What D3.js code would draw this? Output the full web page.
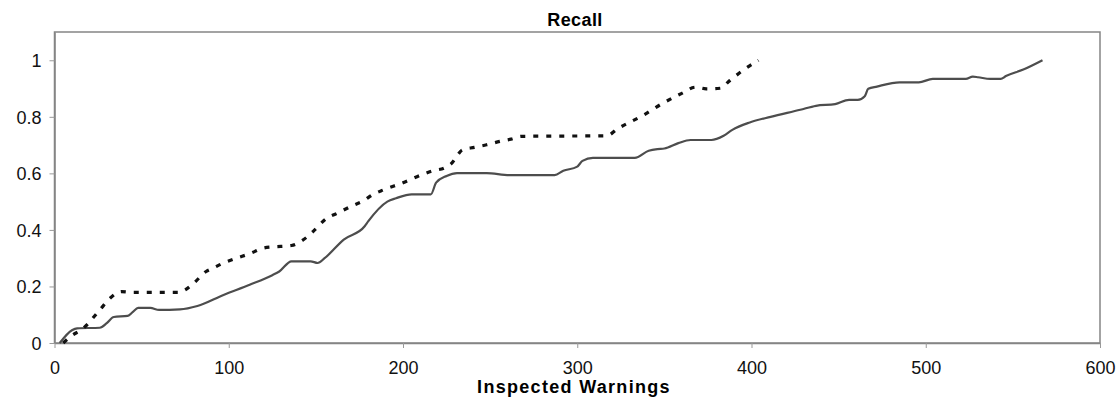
<!DOCTYPE html>
<html>
<head>
<meta charset="utf-8">
<script src="https://cdn.jsdelivr.net/npm/d3@7"></script>
<style>
  body { margin: 0; background: #fff; }
  text { font-family: "Liberation Sans", Arial, sans-serif; }
</style>
</head>
<body>
<div id="chart"></div>
<script>
// values

var xTicks = [0, 100, 200, 300, 400, 500, 600];
var yTicks = [0, 0.2, 0.4, 0.6, 0.8, 1];

// solid grey curve
var solidX = [3, 10, 13, 26, 30, 34, 42, 45, 48, 55, 60, 72, 82, 97, 112, 125, 129, 136, 147, 151,
  155, 166, 178, 180, 191, 196, 205, 216, 219, 225, 231, 248, 261, 287, 292, 300, 303, 309, 333, 341,
  346, 350, 358, 365, 377, 384, 389, 399, 411, 428, 437, 448, 456, 461, 465, 467, 472, 485, 496, 504,
  523, 527, 530, 537, 543, 546, 556, 567];
var solidY = [0, 0.045, 0.052, 0.054, 0.07, 0.092, 0.096, 0.11, 0.124, 0.124, 0.117, 0.119, 0.131, 0.17, 0.206, 0.24, 0.253, 0.289, 0.289, 0.283,
  0.3, 0.366, 0.413, 0.43, 0.5, 0.512, 0.526, 0.526, 0.567, 0.591, 0.601, 0.601, 0.594, 0.594, 0.609, 0.624, 0.644, 0.655, 0.655, 0.68,
  0.686, 0.688, 0.707, 0.718, 0.718, 0.733, 0.754, 0.78, 0.8, 0.825, 0.839, 0.845, 0.86, 0.86, 0.873, 0.899, 0.907, 0.922, 0.922, 0.934,
  0.934, 0.942, 0.94, 0.934, 0.934, 0.944, 0.967, 1.0];

// dashed black curve
var dashX = [5, 9, 16.5, 26, 32, 38.5, 45, 51, 72, 75, 80, 87, 91, 97, 104.5, 112, 120, 125.5, 136, 143,
  148.5, 156, 162, 171.5, 177, 183, 188.5, 200, 211.5, 217, 224, 228, 231, 234, 241, 248, 255.5, 262, 268, 317,
  323, 338, 348, 360, 368, 374, 382, 387.5, 395, 404];
var dashY = [0, 0.022, 0.052, 0.117, 0.159, 0.182, 0.179, 0.179, 0.179, 0.188, 0.212, 0.253, 0.265, 0.283, 0.3, 0.316, 0.336, 0.34, 0.345, 0.366,
  0.395, 0.44, 0.458, 0.487, 0.502, 0.526, 0.541, 0.567, 0.597, 0.609, 0.62, 0.636, 0.662, 0.683, 0.692, 0.701, 0.713, 0.721, 0.731, 0.733,
  0.757, 0.806, 0.844, 0.883, 0.905, 0.899, 0.901, 0.928, 0.964, 1.0];

var width = 1119, height = 398;
var plotLeft = 54.5, plotRight = 1100, plotTop = 32, plotBottom = 343;

var xScale = d3.scaleLinear().domain([0, 600]).range([plotLeft, plotRight]);
var yScale = d3.scaleLinear().domain([0, 1.1]).range([plotBottom, plotTop]);

var svg = d3.select("#chart").append("svg")
  .attr("width", width)
  .attr("height", height);

// plot frame
svg.append("rect")
  .attr("x", plotLeft).attr("y", plotTop)
  .attr("width", plotRight - plotLeft).attr("height", plotBottom - plotTop)
  .attr("fill", "none")
  .attr("stroke", "#858585")
  .attr("stroke-width", 1.5);

// axes
var xAxis = svg.append("g")
  .attr("transform", "translate(0," + plotBottom + ")")
  .call(d3.axisBottom(xScale).tickValues(xTicks).tickSize(5).tickSizeOuter(0).tickPadding(13));

var yAxis = svg.append("g")
  .attr("transform", "translate(" + plotLeft + ",0)")
  .call(d3.axisLeft(yScale).tickValues(yTicks).tickSize(5).tickSizeOuter(0).tickPadding(8)
    .tickFormat(function(d) { return String(d); }));

[xAxis, yAxis].forEach(function(g) {
  g.select(".domain").attr("stroke", "#858585").attr("stroke-width", 1.5);
  g.selectAll(".tick line").attr("stroke", "#999");
  g.selectAll(".tick text")
    .attr("fill", "#111")
    .style("font-size", "18px")
    .style("font-family", "'Liberation Sans', Arial, sans-serif");
});
yAxis.selectAll(".tick text").attr("dy", "0.35em");

// lines
var line = d3.line()
  .x(function(d) { return xScale(d[0]); })
  .y(function(d) { return yScale(d[1]); })
  .curve(d3.curveMonotoneX);

svg.append("path")
  .datum(d3.zip(solidX, solidY))
  .attr("d", line)
  .attr("fill", "none")
  .attr("stroke", "#4d4d4d")
  .attr("stroke-width", 2.2);

svg.append("path")
  .datum(d3.zip(dashX, dashY))
  .attr("d", line)
  .attr("fill", "none")
  .attr("stroke", "#111")
  .attr("stroke-width", 3.2)
  .attr("stroke-dasharray", "5,8");

// titles
svg.append("text")
  .attr("x", 575).attr("y", 26)
  .attr("text-anchor", "middle")
  .style("font-size", "18px")
  .style("font-weight", "bold")
  .style("letter-spacing", "0.4px")
  .text("Recall");

svg.append("text")
  .attr("x", 574).attr("y", 393)
  .attr("text-anchor", "middle")
  .style("font-size", "18px")
  .style("font-weight", "bold")
  .style("letter-spacing", "1.3px")
  .text("Inspected Warnings");
</script>
</body>
</html>
